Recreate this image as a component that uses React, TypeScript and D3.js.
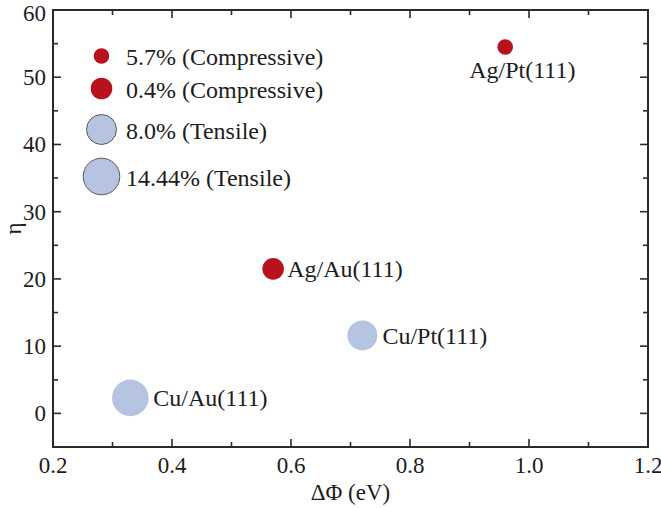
import React from "react";
import * as d3 from "d3";

// Interface systems: work-function difference vs. η, marker size by lattice strain
const systems = ["Ag/Pt(111)", "Ag/Au(111)", "Cu/Pt(111)", "Cu/Au(111)"];
const deltaPhi = [0.96, 0.57, 0.72, 0.33];
const eta = [54.5, 21.5, 11.6, 2.3];
const strainOf = ["5.7%", "0.4%", "8.0%", "14.44%"];

// Legend entries (strain magnitude and kind)
const strainLabels = ["5.7%", "0.4%", "8.0%", "14.44%"];
const strainKinds = ["Compressive", "Compressive", "Tensile", "Tensile"];

const xTicks = [0.2, 0.4, 0.6, 0.8, 1.0, 1.2];
const yTicks = [0, 10, 20, 30, 40, 50, 60];
const xMinor = [0.3, 0.5, 0.7, 0.9, 1.1];
const yMinor = [-5, 5, 15, 25, 35, 45, 55];

const W = 661;
const H = 508;
const M = { left: 53, right: 648, top: 10, bottom: 447 };

const RED = "#b8121e";
const BLUE = "#b6c3e1";
const INK = "#1c1c1c";
const AXIS = "#2a2a2a";
const FONT = "Liberation Serif";

export default function App() {
  const x = d3.scaleLinear().domain([0.2, 1.2]).range([M.left, M.right]);
  const y = d3.scaleLinear().domain([-5, 60]).range([M.bottom, M.top]);
  const r = d3.scaleOrdinal<string, number>().domain(strainLabels).range([7.8, 10.8, 15, 18.3]);
  const fill = d3
    .scaleOrdinal<string, string>()
    .domain(["Compressive", "Tensile"])
    .range([RED, BLUE]);
  const kindOf = (s: string) => strainKinds[strainLabels.indexOf(s)];

  const major = 8;
  const minor = 5;

  // label offsets relative to each marker
  const labelPos: Record<string, { dx: number; dy: number; anchor: string }> = {
    "Ag/Pt(111)": { dx: -36, dy: 31, anchor: "start" },
    "Ag/Au(111)": { dx: 14, dy: 8, anchor: "start" },
    "Cu/Pt(111)": { dx: 20, dy: 9, anchor: "start" },
    "Cu/Au(111)": { dx: 23, dy: 8, anchor: "start" },
  };

  const legendY = [56, 88.5, 129.5, 176.5];

  return (
    <svg width={W} height={H} style={{ position: "absolute", left: 0, top: 0, background: "#fff" }}>
      <rect x={0} y={0} width={W} height={H} fill="#fff" />
      {/* ticks on all four sides, pointing inward */}
      <g stroke={AXIS} strokeWidth={1.6}>
        {xTicks.map((t) => (
          <g key={"xt" + t}>
            <line x1={x(t)} x2={x(t)} y1={M.bottom} y2={M.bottom - major} />
            <line x1={x(t)} x2={x(t)} y1={M.top} y2={M.top + major} />
          </g>
        ))}
        {xMinor.map((t) => (
          <g key={"xm" + t}>
            <line x1={x(t)} x2={x(t)} y1={M.bottom} y2={M.bottom - minor} />
            <line x1={x(t)} x2={x(t)} y1={M.top} y2={M.top + minor} />
          </g>
        ))}
        {yTicks.map((t) => (
          <g key={"yt" + t}>
            <line x1={M.left} x2={M.left + major} y1={y(t)} y2={y(t)} />
            <line x1={M.right} x2={M.right - major} y1={y(t)} y2={y(t)} />
          </g>
        ))}
        {yMinor.map((t) => (
          <g key={"ym" + t}>
            <line x1={M.left} x2={M.left + minor} y1={y(t)} y2={y(t)} />
            <line x1={M.right} x2={M.right - minor} y1={y(t)} y2={y(t)} />
          </g>
        ))}
      </g>
      <rect
        x={M.left}
        y={M.top}
        width={M.right - M.left}
        height={M.bottom - M.top}
        fill="none"
        stroke={AXIS}
        strokeWidth={2}
      />

      <g fontFamily={FONT} fontSize={23} fill={INK}>
        {xTicks.map((t) => (
          <text key={"xl" + t} x={x(t)} y={M.bottom + 26} textAnchor="middle">
            {d3.format(".1f")(t)}
          </text>
        ))}
        {yTicks.map((t) => (
          <text key={"yl" + t} x={M.left - 7} y={Math.max(y(t) + 8, 21)} textAnchor="end">
            {t}
          </text>
        ))}
        <text x={(M.left + M.right) / 2} y={500} textAnchor="middle">
          ΔΦ (eV)
        </text>
        <text
          transform={`translate(21, ${(M.top + M.bottom) / 2}) rotate(-90)`}
          textAnchor="middle"
        >
          η
        </text>
      </g>

      {/* legend */}
      <g fontFamily={FONT} fontSize={24} fill={INK}>
        {strainLabels.map((s, i) => (
          <g key={"lg" + s}>
            <circle
              cx={101.5}
              cy={legendY[i]}
              r={r(s)}
              fill={fill(strainKinds[i])}
              stroke={strainKinds[i] === "Tensile" ? "#4a4a4a" : "none"}
              strokeWidth={0.9}
            />
            <text x={126} y={legendY[i] + 9}>
              {`${s} (${strainKinds[i]})`}
            </text>
          </g>
        ))}
      </g>

      {/* data markers and labels */}
      <g fontFamily={FONT} fontSize={24} fill={INK}>
        {systems.map((name, i) => {
          const cx = x(deltaPhi[i]);
          const cy = y(eta[i]);
          const p = labelPos[name];
          return (
            <g key={name}>
              <circle cx={cx} cy={cy} r={r(strainOf[i])} fill={fill(kindOf(strainOf[i]))} />
              <text x={cx + p.dx} y={cy + p.dy} textAnchor={p.anchor}>
                {name}
              </text>
            </g>
          );
        })}
      </g>
    </svg>
  );
}
